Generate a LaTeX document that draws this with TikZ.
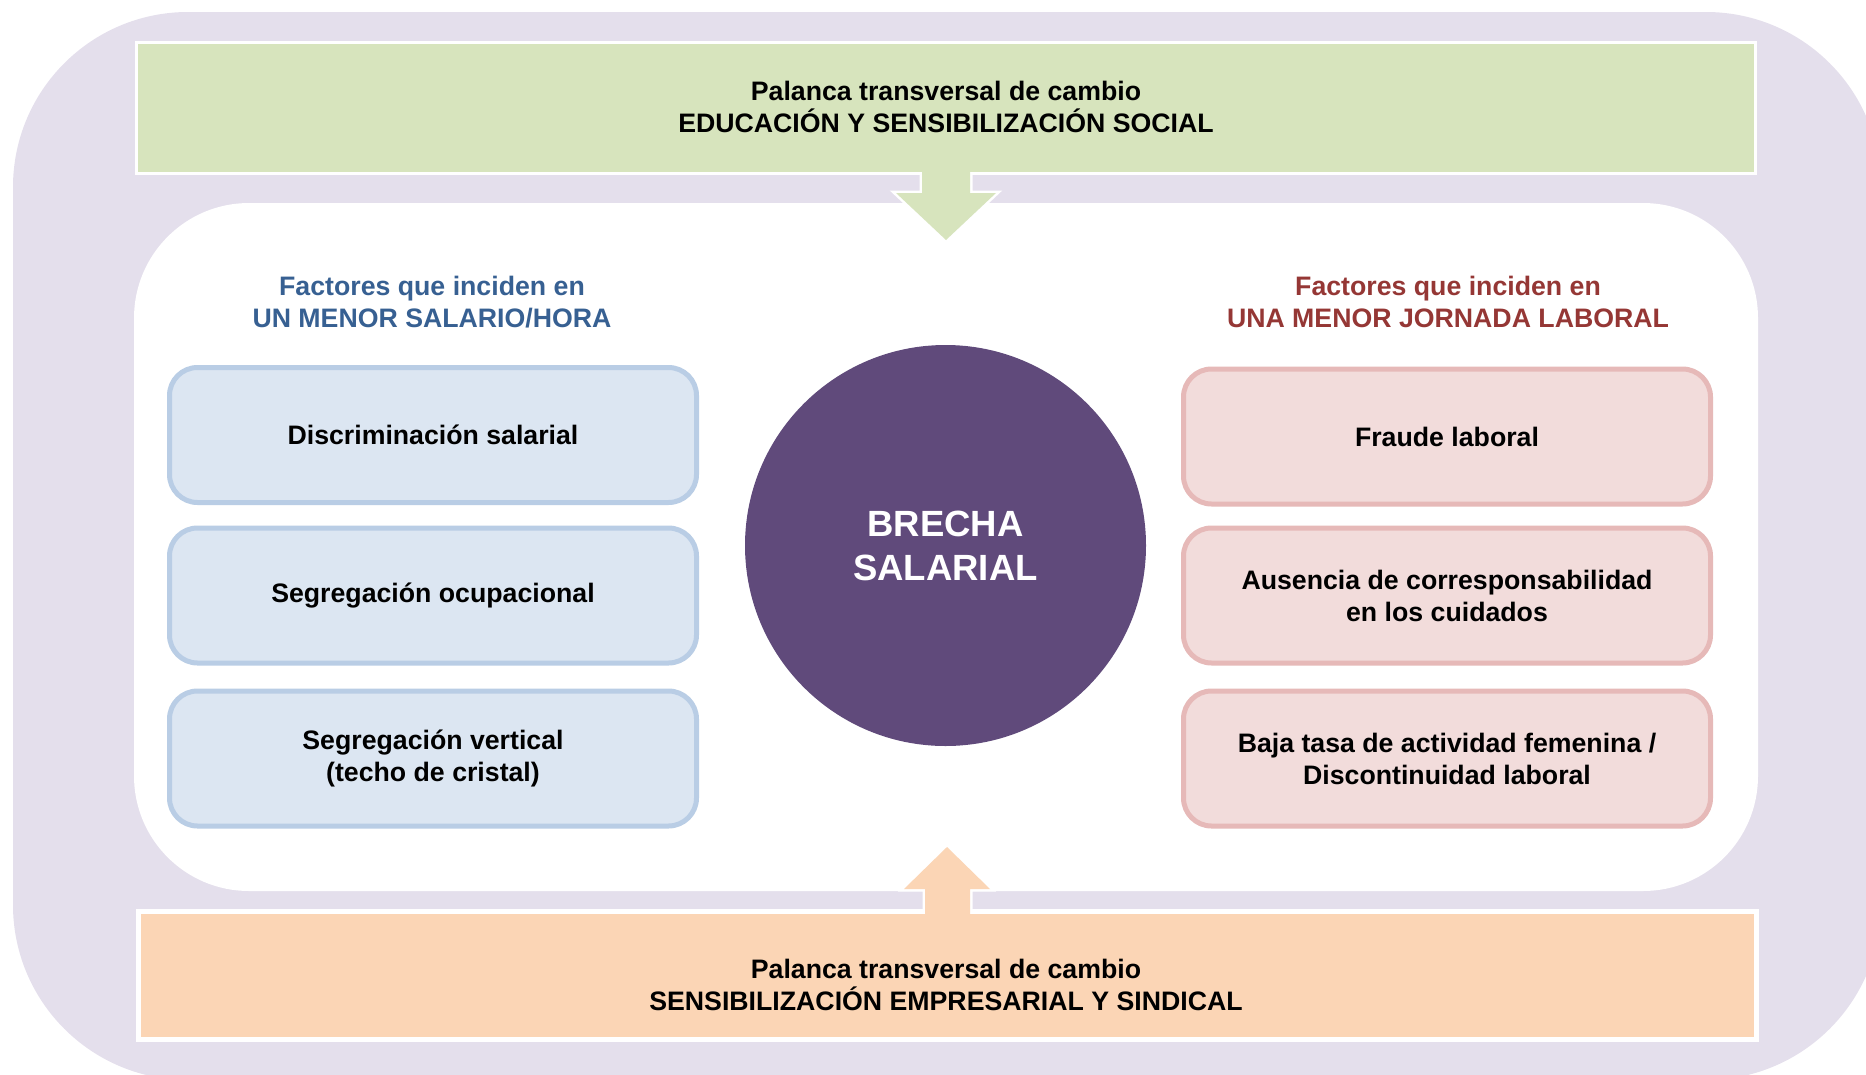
\documentclass[tikz,border=0pt]{standalone}
\usepackage{fontspec}
\setmainfont{Liberation Sans}
\definecolor{lav}{HTML}{E4DFEC}
\definecolor{lgreen}{HTML}{D7E4BD}
\definecolor{lorange}{HTML}{FBD5B5}
\definecolor{bfill}{HTML}{DCE6F2}
\definecolor{bline}{HTML}{B9CDE5}
\definecolor{rfill}{HTML}{F2DCDB}
\definecolor{rline}{HTML}{E6B9B8}
\definecolor{dpurple}{HTML}{604A7B}
\definecolor{hblue}{HTML}{376092}
\definecolor{hred}{HTML}{953735}
\begin{document}
\begin{tikzpicture}[x=1pt,y=-1pt,
  txt/.style={font=\fontsize{26.7}{32}\selectfont\bfseries, align=center, inner sep=0pt},
  lever/.style={txt, draw=white, minimum width=1618pt, minimum height=128pt},
  factorL/.style={txt, rectangle, rounded corners=28pt, draw=bline, fill=bfill, line width=5pt, minimum width=527pt, minimum height=135pt},
  factorR/.style={txt, rectangle, rounded corners=28pt, draw=rline, fill=rfill, line width=5pt, minimum width=527pt, minimum height=135pt},
  heading/.style={txt},
  core/.style={circle, fill=dpurple, minimum size=401pt, inner sep=0pt, text=white, align=center, font=\fontsize{36.5}{44}\selectfont\bfseries}
]
\useasboundingbox (0,0) rectangle (1866,1074);
\clip (0,0) rectangle (1866,1074);
% background frames
\fill[lav, rounded corners=175pt] (13,12) rectangle (1881,1080);
\fill[white, rounded corners=115pt] (134,203) rectangle (1758,891);

% top arrow (outline first)
\path[fill=lgreen, draw=white, line width=5pt, line join=miter]
  (922,150) -- (970,150) -- (970,193) -- (996,193) -- (946,240) -- (896,193) -- (922,193) -- cycle;
\node[lever, fill=lgreen, line width=3pt, minimum width=1619pt, minimum height=131pt] (top) at (946,108) {};
\fill[lgreen] (922,150) -- (970,150) -- (970,193) -- (996,193) -- (946,240) -- (896,193) -- (922,193) -- cycle;
\node[txt] (toplbl) at (946,107) {Palanca transversal de cambio\\EDUCACIÓN Y SENSIBILIZACIÓN SOCIAL};

% bottom arrow
\path[fill=lorange, draw=white, line width=5pt, line join=miter]
  (925,930) -- (925,889) -- (904,889) -- (947,847) -- (990,889) -- (970,889) -- (970,930) -- cycle;
\node[lever, fill=lorange, line width=5pt] (bot) at (947.5,975.5) {};
\fill[lorange] (925,930) -- (925,889) -- (904,889) -- (947,847) -- (990,889) -- (970,889) -- (970,930) -- cycle;
\node[txt] (botlbl) at (946,985) {Palanca transversal de cambio\\SENSIBILIZACIÓN EMPRESARIAL Y SINDICAL};

% headings
\node[heading, text=hblue] (hl) at (432,302) {Factores que inciden en\\UN MENOR SALARIO/HORA};
\node[heading, text=hred] (hr) at (1448,302) {Factores que inciden en\\UNA MENOR JORNADA LABORAL};

% left factors
\node[factorL] (l1) at (433,435) {Discriminación salarial};
\node[factorL] (l2) at (433,595.5) {Segregación ocupacional};
\node[factorL] (l3) at (433,758.5) {Segregación vertical\\(techo de cristal)};

% right factors
\node[factorR] (r1) at (1447,436.5) {Fraude laboral};
\node[factorR] (r2) at (1447,595.5) {Ausencia de corresponsabilidad\\en los cuidados};
\node[factorR] (r3) at (1447,758.5) {Baja tasa de actividad femenina /\\Discontinuidad laboral};

% centre
\node[core] (brecha) at (945.5,545.5) {BRECHA\\SALARIAL};
\end{tikzpicture}
\end{document}
